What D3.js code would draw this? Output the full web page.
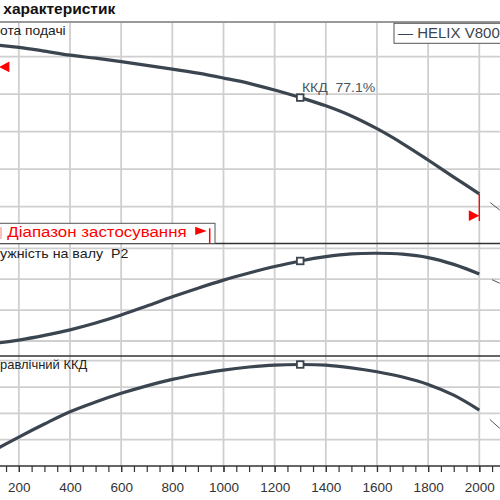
<!DOCTYPE html>
<html>
<head>
<meta charset="utf-8">
<script src="https://cdn.jsdelivr.net/npm/d3@7"></script>
<style>
  body { margin: 0; background: #fff; }
  svg { display: block; font-family: 'Liberation Sans', Arial, sans-serif; }
</style>
</head>
<body>
<script>
// pump curves (flow on x, three stacked panels)
const flow = [0, 100, 200, 300, 400, 500, 600, 700, 800, 900, 1000,
              1100, 1200, 1300, 1400, 1500, 1600, 1700, 1800, 1900, 2000]
const head = [53.6, 53.2, 52.5, 51.5, 50.4, 49.6, 48.7, 47.7, 46.7, 45.6, 44.3,
              42.9, 41.1, 39.1, 36.9, 34.2, 30.8, 26.85, 22.45, 17.9, 13.4]
const power = [0.88, 0.92, 1.03, 1.18, 1.36, 1.58, 1.84, 2.13, 2.43, 2.71, 2.97,
               3.2, 3.41, 3.59, 3.73, 3.82, 3.84, 3.81, 3.70, 3.48, 3.17]
const efficiency = [0, 11.5, 22, 31.9, 41.2, 48.6, 55.2, 60.9, 65.8, 69.7, 72.9,
                    75.2, 76.7, 77.1, 76.7, 74.6, 71.6, 67.6, 62.0, 53.8, 42.5]

// dashed continuation past the range limit
const extFlow = [2000, 2080]
const extHead = [13.4, 9.1]
const extPower = [3.17, 2.87]
const extEfficiency = [42.5, 28.6]

const dutyFlow = 1300
const dutyEff = 77.1
const rangeLimits = [122, 2000]

const flowTicks = [200, 400, 600, 800, 1000, 1200, 1400, 1600, 1800, 2000]
const headTicks = [10, 20, 30, 40, 50]
const powerTicks = [1, 2, 3, 4]
const effTicks = [20, 40, 60, 80]

const title = 'характеристик'
const panelLabels = ['ота подачі', 'ужність на валу  P2', 'равлічний ККД']
const legendText = '— HELIX V800'
const rangeText = 'Діапазон застосування'

const W = 500, H = 500
const TOP = 22, SEP1 = 243.5, SEP2 = 356, AXIS_Y = 466
const CURVE = '#3b4550'
const GRID = '#cfcfcf'

const svg = d3.select('body').append('svg')
  .attr('width', W)
  .attr('height', H)

let x = d3.scaleLinear().domain([400, 2000]).range([70, 479.3])
let yHead = d3.scaleLinear().domain([0, 50]).range([244.2, 56.7])
let yPower = d3.scaleLinear().domain([1, 4]).range([341, 248.3])
let yEff = d3.scaleLinear().domain([0, 80]).range([466, 360.7])

// grid

let grid = svg.append('g').attr('class', 'grid')

flowTicks.forEach((d) => {
  grid.append('line')
    .attr('x1', x(d)).attr('x2', x(d))
    .attr('y1', TOP).attr('y2', AXIS_Y)
    .attr('stroke', GRID).attr('stroke-width', 1.8)
})

let hLines = headTicks.map((d) => yHead(d))
  .concat(powerTicks.map((d) => yPower(d)), effTicks.map((d) => yEff(d)))

hLines.forEach((d) => {
  grid.append('line')
    .attr('x1', 0).attr('x2', W)
    .attr('y1', d).attr('y2', d)
    .attr('stroke', GRID).attr('stroke-width', 1.8)
})

// panel frame

svg.append('line')
  .attr('x1', 0).attr('x2', W).attr('y1', TOP).attr('y2', TOP)
  .attr('stroke', '#999').attr('stroke-width', 2)

svg.selectAll('line.sep')
  .data([SEP1, SEP2])
  .join('line')
    .attr('class', 'sep')
    .attr('x1', 0).attr('x2', W)
    .attr('y1', (d) => d).attr('y2', (d) => d)
    .attr('stroke', '#333').attr('stroke-width', 1.3)

svg.append('text')
  .attr('x', 3.3).attr('y', 13.8)
  .attr('font-size', 14.5).attr('font-weight', 'bold').attr('fill', '#111')
  .attr('textLength', 112).attr('lengthAdjust', 'spacingAndGlyphs')
  .text(title)

svg.selectAll('text.plabel')
  .data(panelLabels)
  .join('text')
    .attr('class', 'plabel')
    .attr('x', 0)
    .attr('y', (d, i) => [35, 257.5, 369.3][i])
    .attr('font-size', 13.5).attr('fill', '#222')
    .attr('xml:space', 'preserve')
    .attr('textLength', (d, i) => [65.7, 128.3, 87.3][i])
    .attr('lengthAdjust', 'spacingAndGlyphs')
    .text((d) => d)

// curves

let panels = [
  { y: yHead, values: head, ext: extHead },
  { y: yPower, values: power, ext: extPower },
  { y: yEff, values: efficiency, ext: extEfficiency }
]

panels.forEach((p) => {
  let line = d3.line()
    .x((d, i) => x(flow[i]))
    .y((d) => p.y(d))
    .curve(d3.curveCatmullRom)

  svg.append('path')
    .datum(p.ext)
    .attr('d', d3.line().x((d, i) => x(extFlow[i])).y((d) => p.y(d)))
    .attr('fill', 'none')
    .attr('stroke', '#555')
    .attr('stroke-width', 1)
    .attr('stroke-dasharray', '14 14')
    .attr('stroke-dashoffset', 14)

  svg.append('path')
    .datum(p.values)
    .attr('d', line)
    .attr('fill', 'none')
    .attr('stroke', CURVE)
    .attr('stroke-width', 3.2)

  let i = flow.indexOf(dutyFlow)
  svg.append('rect')
    .attr('x', x(dutyFlow) - 3.3).attr('y', p.y(p.values[i]) - 3.3)
    .attr('width', 6.6).attr('height', 6.6)
    .attr('fill', '#fff')
    .attr('stroke', CURVE)
    .attr('stroke-width', 1.8)
})

let di = flow.indexOf(dutyFlow)
svg.append('text')
  .attr('x', x(dutyFlow) + 1.7)
  .attr('y', yHead(head[di]) - 6)
  .attr('font-size', 12.5).attr('fill', '#4a5460')
  .attr('xml:space', 'preserve')
  .attr('textLength', 73.3).attr('lengthAdjust', 'spacingAndGlyphs')
  .text('ККД  ' + dutyEff + '%')

// operating range limits on the head curve

let headAt = (q) => {
  let k = d3.bisectLeft(flow, q)
  if (k <= 0) return head[0]
  let t = (q - flow[k - 1]) / (flow[k] - flow[k - 1])
  return head[k - 1] + t * (head[k] - head[k - 1])
}

rangeLimits.forEach((q, j) => {
  let lx = x(q), top = yHead(headAt(q)), bottom = top + 27
  let dir = j === 0 ? 1 : -1
  svg.append('line')
    .attr('x1', lx).attr('x2', lx).attr('y1', top).attr('y2', bottom)
    .attr('stroke', '#f00').attr('stroke-width', 1.3)
  svg.append('path')
    .attr('d', 'M' + lx + ',' + (bottom - 5.3) +
               'L' + (lx + dir * 10.5) + ',' + (bottom - 10.7) +
               'L' + (lx + dir * 10.5) + ',' + bottom + 'Z')
    .attr('fill', '#f00')
})

// application range label box

let rbox = svg.append('g')
rbox.append('rect')
  .attr('x', -5).attr('y', 223.3)
  .attr('width', 220).attr('height', SEP1 - 223.3)
  .attr('fill', '#fff').attr('stroke', '#555').attr('stroke-width', 1)
rbox.append('line')
  .attr('x1', 1).attr('x2', 1).attr('y1', 227).attr('y2', 239)
  .attr('stroke', '#f00').attr('stroke-opacity', 0.35).attr('stroke-width', 1.5)
let rtext = rbox.append('text')
  .attr('x', 7.3).attr('y', 237.3)
  .attr('font-size', 15.5).attr('fill', '#f00')
  .attr('textLength', 179.4).attr('lengthAdjust', 'spacingAndGlyphs')
  .text(rangeText)
let tEnd = 7.3 + 179.4
rbox.append('path')
  .attr('d', 'M' + (tEnd + 8.5) + ',226.7L' + (tEnd + 20) + ',230.9L' + (tEnd + 8.5) + ',235Z')
  .attr('fill', '#f00')
rbox.append('line')
  .attr('x1', tEnd + 23).attr('x2', tEnd + 23).attr('y1', 228.3).attr('y2', SEP1)
  .attr('stroke', '#f00').attr('stroke-width', 1.5)
rbox.select('rect').attr('width', tEnd + 28.3 + 5)

// legend

let legend = svg.append('g')
legend.append('rect')
  .attr('x', 394).attr('y', 23.3).attr('width', 140).attr('height', 20)
  .attr('fill', '#fff').attr('stroke', '#555').attr('stroke-width', 1)
legend.append('text')
  .attr('x', 398).attr('y', 38)
  .attr('font-size', 15).attr('fill', '#3b4550')
  .text(legendText)

// x axis

svg.append('g')
  .attr('transform', 'translate(0,' + AXIS_Y + ')')
  .call(d3.axisBottom(x).tickValues(d3.range(0, 2101, 50)).tickSize(6).tickFormat(''))
  .call((g) => g.select('.domain').remove())
  .call((g) => g.selectAll('line').attr('stroke', '#333').attr('stroke-width', 1.2))

svg.append('g')
  .attr('transform', 'translate(0,' + AXIS_Y + ')')
  .call(d3.axisBottom(x).tickValues(flowTicks).tickSize(6).tickPadding(10).tickFormat(d3.format('d')))
  .call((g) => g.select('.domain').remove())
  .call((g) => g.selectAll('line').attr('stroke', '#333').attr('stroke-width', 1.2))
  .call((g) => g.selectAll('text')
    .attr('font-size', 13.5)
    .attr('font-family', "'Liberation Sans', Arial, sans-serif")
    .attr('fill', '#333'))

svg.append('line')
  .attr('x1', 0).attr('x2', W).attr('y1', AXIS_Y).attr('y2', AXIS_Y)
  .attr('stroke', '#333').attr('stroke-width', 1.5)
</script>
</body>
</html>
